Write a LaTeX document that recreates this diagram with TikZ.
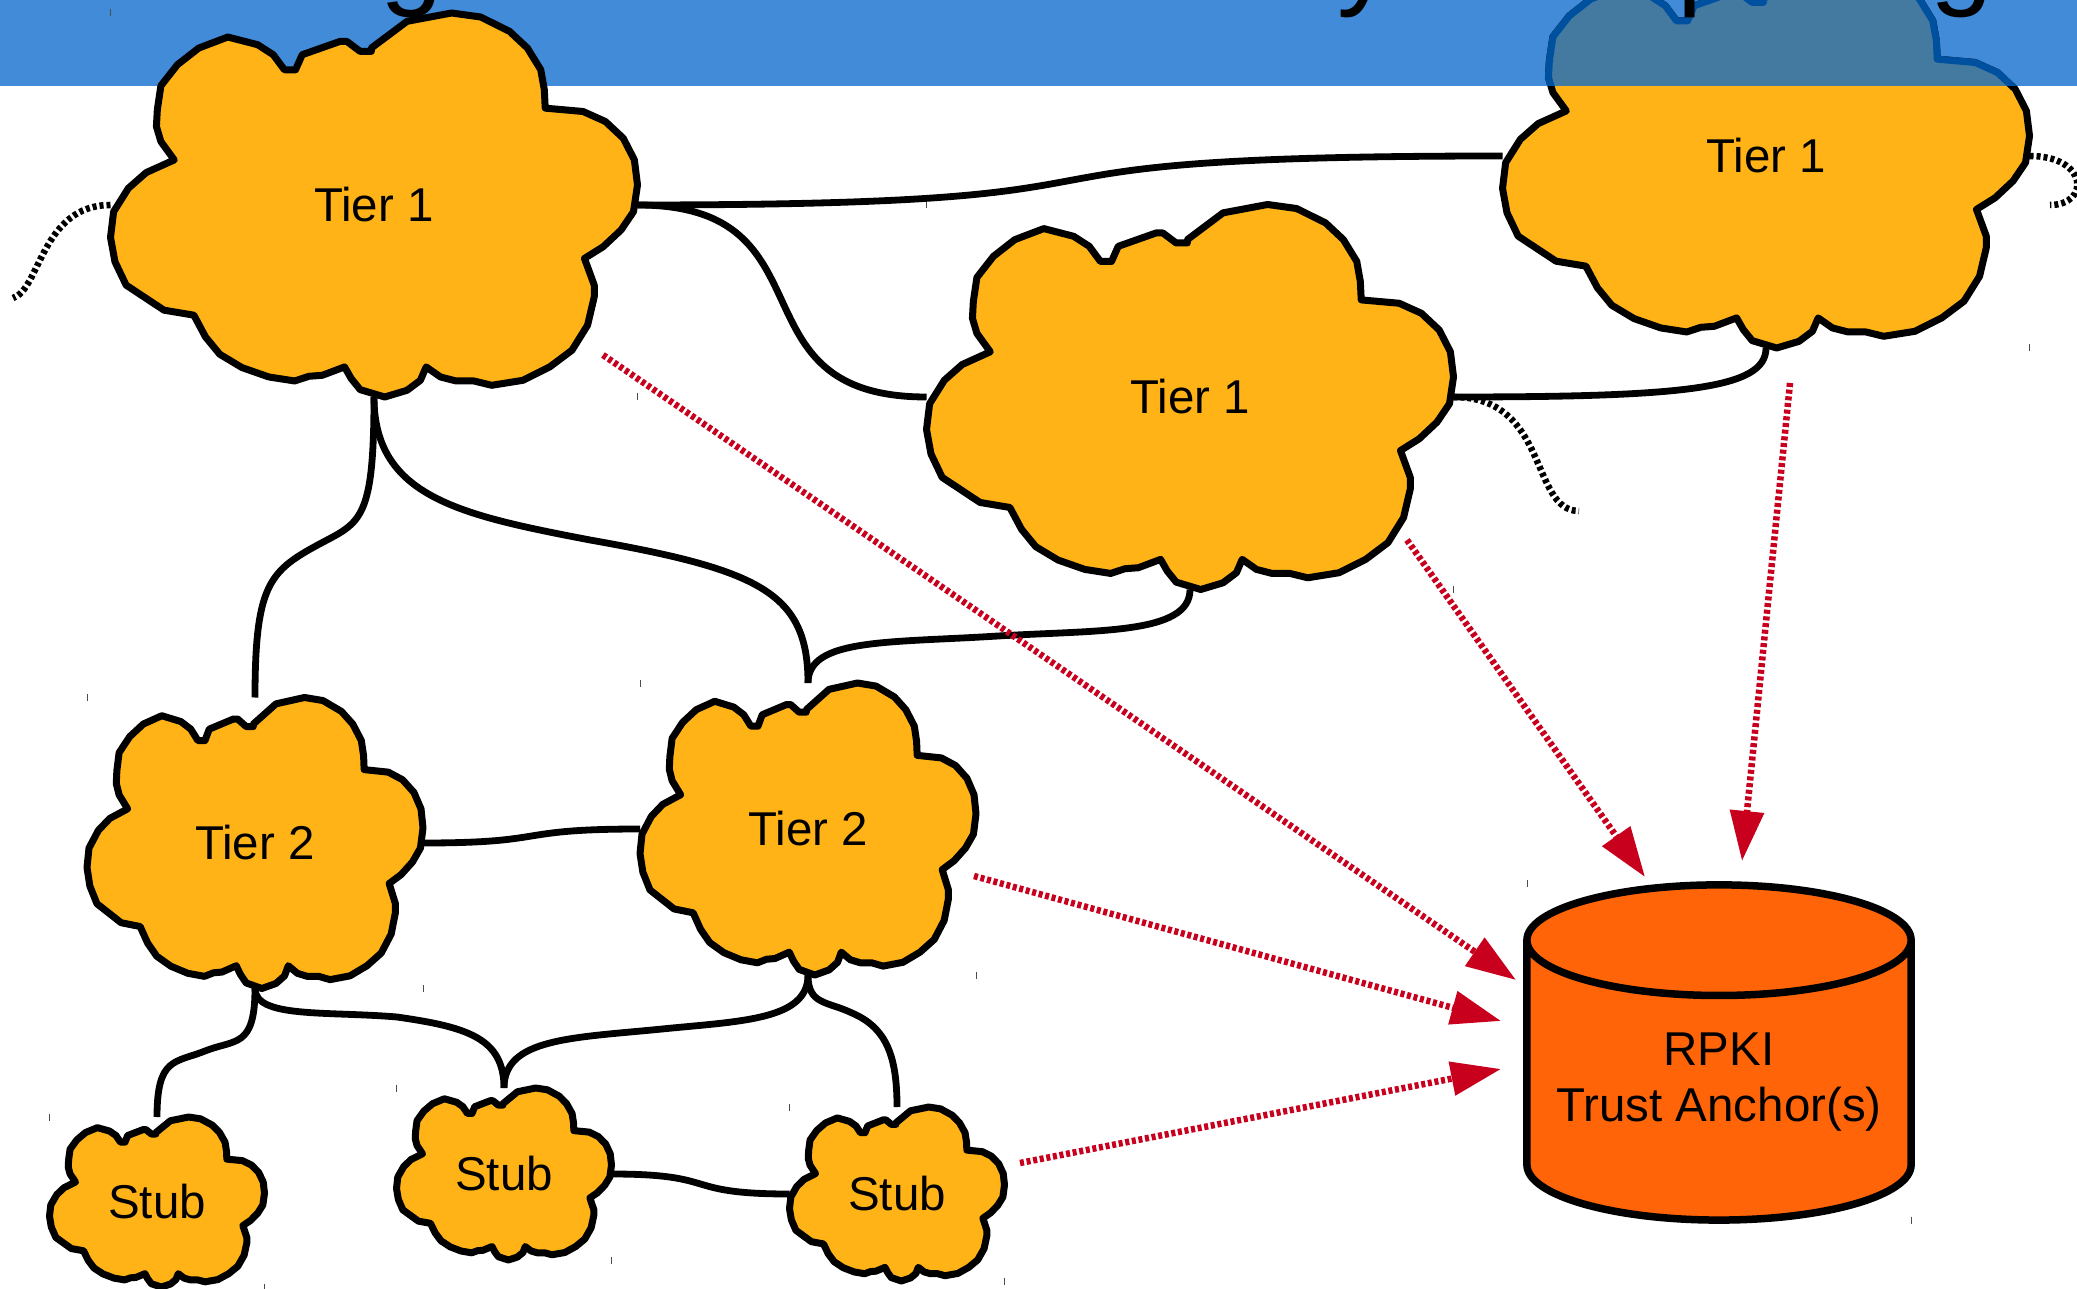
\documentclass[tikz,border=0pt]{standalone}
\usepackage{fontspec}
\setmainfont{Liberation Sans}
\usetikzlibrary{arrows.meta,shapes.geometric}
\definecolor{barblue}{HTML}{418BD8}
\definecolor{barcloud}{HTML}{447AA0}
\definecolor{barline}{HTML}{0050A0}
\definecolor{cloudorange}{HTML}{FFB316}
\definecolor{trustorange}{HTML}{FF6508}
\definecolor{arrowred}{HTML}{C8001E}
\tikzset{
    labeltext/.style={font=\fontsize{13.5pt}{15.8pt}\selectfont,text=black},
    cloudfill/.style={draw=black,fill=cloudorange,line width=0.07cm,line join=round},
    cloudover/.style={draw=barline,fill=barcloud,line width=0.07cm,line join=round},
    cloudbox/.style={labeltext,inner sep=0pt,outer sep=0pt},
    trustbox/.style={labeltext,draw=black,fill=trustorange,line width=0.075cm,shape=cylinder,shape border rotate=90,aspect=0.34,minimum width=3.84cm,minimum height=3.35cm,inner sep=0pt,outer sep=0pt,align=center},
    linkline/.style={draw=black,line width=0.068cm},
    tailline/.style={draw=black,line width=0.065cm,dash pattern=on 0.04cm off 0.03cm},
    trustline/.style={draw=arrowred,line width=0.065cm,dash pattern=on 0.04cm off 0.027cm,-{Triangle[length=0.5cm,width=0.33cm,fill=arrowred]}},
    tickline/.style={draw=black!70,line width=0.01cm},
    titletext/.style={font=\fontsize{32pt}{38pt}\selectfont,anchor=base,inner sep=0pt},
    cloudshape/.pic={
        \path[pic actions] (-6,-470) -- (74,-550) -- (174,-575) -- (239,-563) -- (304,-520) -- (344,-470) -- (374,-405) -- (382,-345) -- (384,-290)
            -- (469,-280) -- (519,-250) -- (559,-200) -- (584,-135) -- (591,-60) -- (582,20) -- (554,75) -- (514,125) -- (472,160)
            -- (494,240) -- (494,275) -- (479,360) -- (444,435) -- (394,485) -- (334,525) -- (264,540) -- (224,527) -- (184,527) -- (149,515) -- (117,485)
            -- (104,525) -- (74,555) -- (24,575) -- (-31,553) -- (-51,520) -- (-66,485)
            -- (-116,510) -- (-146,513) -- (-178,527) -- (-236,515) -- (-296,487) -- (-346,447) -- (-378,395) -- (-404,330)
            -- (-471,315) -- (-556,240) -- (-581,170) -- (-591,97) -- (-584,20) -- (-551,-50) -- (-511,-97) -- (-448,-135)
            -- (-478,-190) -- (-488,-235) -- (-486,-285) -- (-478,-357) -- (-441,-420) -- (-393,-470) -- (-328,-503) -- (-261,-480) -- (-226,-450) -- (-201,-405)
            -- (-176,-405) -- (-161,-450) -- (-76,-490) -- (-61,-490) -- (-31,-460) -- (-6,-460) -- cycle;
    }
}
\newcommand{\cloudnode}[5]{%
    \pic[cloudfill,xscale=#3/1182,yscale=#4/1150] at (#2) {cloudshape};
    \node[cloudbox,minimum width=#3*0.01cm,minimum height=#4*0.01cm] (#1) at (#2) {#5};
    \draw[tickline] (#1.north west) ++(0,-3.5) -- ++(0,7);
    \draw[tickline] (#1.south east) ++(0,-3.5) -- ++(0,7);
}
\begin{document}
\begin{tikzpicture}[x=0.01cm,y=-0.01cm]
        \useasboundingbox (0,0) rectangle (2077,1289);
        %% Header
        \fill[white] (0,0) rectangle (2077,1289);
        \fill[barblue] (0,0) rectangle (2077,86);
        \begin{scope}
            \clip (0,0) rectangle (2077,86);
            \node[titletext] (titleg) at (412,-5) {g};
            \node[titletext] (titley) at (1366,-5) {y};
            \node[titletext] (titleg2) at (1962,-5) {g};
        \end{scope}
        %% Clouds
        \cloudnode{t1a}{374,205}{527}{384}{Tier 1}
        \cloudnode{t1b}{1190,397}{527}{385}{Tier 1}
        \cloudnode{t1c}{1766,156}{527}{384}{Tier 1}
        \cloudnode{t2a}{255,843}{336}{291}{Tier 2}
        \cloudnode{t2b}{808,829}{336}{292}{Tier 2}
        \cloudnode{stuba}{157,1202}{215}{170}{Stub}
        \cloudnode{stubb}{504,1174}{215}{172}{Stub}
        \cloudnode{stubc}{897,1194}{215}{174}{Stub}
        %% Cloud under the header
        \begin{scope}
            \clip (0,0) rectangle (2077,86);
            \pic[cloudover,xscale=527/1182,yscale=384/1150] at (1766,156) {cloudshape};
            \node[titletext] (titlep) at (1709,-5) {p};
        \end{scope}
        %% Store
        \node[trustbox] (trust) at (1719,1082) {RPKI\\Trust Anchor(s)};
        \coordinate (trustnw) at (1527,883);
        \coordinate (trustse) at (1911,1220);
        \draw[tickline] (trustnw) ++(0,-3.5) -- ++(0,7);
        \draw[tickline] (trustse) ++(0,-3.5) -- ++(0,7);
        %% Links
        \coordinate (midaa) at (314,547);
        \coordinate (midab) at (590,540);
        \coordinate (midbb) at (998,636);
        \coordinate (midsa) at (205,1051);
        \coordinate (midsb) at (397,1017);
        \coordinate (midsc) at (662,1029);
        \coordinate (midsd) at (852,1013);
        \draw[linkline] (t1a.east) .. controls +(600,0) and +(-600,0) .. (t1c.west);
        \draw[linkline] (t1a.east) .. controls +(200,0) and +(-200,0) .. (t1b.west);
        \draw[linkline] (t1b.east) .. controls +(230,0) and +(0,41) .. (t1c.south);
        \draw[linkline] (t1b.south) .. controls +(0,45) and +(100,-6) .. (midbb) .. controls +(-110,7) and +(0,-45) .. (t2b.north);
        \draw[linkline] (t1a.south) .. controls +(0,130) and +(45,-25) .. (midaa) .. controls +(-45,25) and +(0,-110) .. (t2a.north);
        \draw[linkline] (t1a.south) .. controls +(0,100) and +(-130,-25) .. (midab) .. controls +(170,30) and +(0,-90) .. (t2b.north);
        \draw[linkline] (t2a.east) .. controls +(130,0) and +(-130,0) .. (t2b.west);
        \draw[linkline] (t2a.south) .. controls +(0,60) and +(30,-12) .. (midsa) .. controls +(-30,12) and +(0,-60) .. (stuba.north);
        \draw[linkline] (t2a.south) .. controls +(0,30) and +(-70,-6) .. (midsb) .. controls +(70,10) and +(0,-50) .. (stubb.north);
        \draw[linkline] (t2b.south) .. controls +(0,45) and +(80,-8) .. (midsc) .. controls +(-90,9) and +(0,-50) .. (stubb.north);
        \draw[linkline] (t2b.south) .. controls +(0,30) and +(-25,-12) .. (midsd) .. controls +(35,15) and +(0,-50) .. (stubc.north);
        \draw[linkline] (stubb.east) .. controls +(110,0) and +(-110,0) .. (stubc.west);
        %% Loose ends
        \coordinate (taila) at (13,298);
        \coordinate (tailb) at (1579,511);
        \coordinate (tailc) at (2050,205);
        \draw[tailline] (t1a.west) .. controls +(-69,0) and +(27,-8) .. (taila);
        \draw[tailline] (t1b.east) .. controls +(96,0) and +(-49,0) .. (tailb);
        \draw[tailline] (t1c.east) .. controls +(59,0) and +(40,0) .. (tailc);
        %% Validation
        \coordinate (froma) at (603,355);
        \coordinate (fromb) at (1407,540);
        \coordinate (fromc) at (1790,383);
        \coordinate (fromd) at (974,876);
        \coordinate (frome) at (1020,1163);
        \coordinate (toa) at (1516,980);
        \coordinate (tob) at (1645,877);
        \coordinate (toc) at (1742,861);
        \coordinate (tod) at (1501,1021);
        \coordinate (toe) at (1501,1069);
        \draw[trustline] (froma) -- (toa);
        \draw[trustline] (fromb) -- (tob);
        \draw[trustline] (fromc) -- (toc);
        \draw[trustline] (fromd) -- (tod);
        \draw[trustline] (frome) -- (toe);
    \end{tikzpicture}
\end{document}
